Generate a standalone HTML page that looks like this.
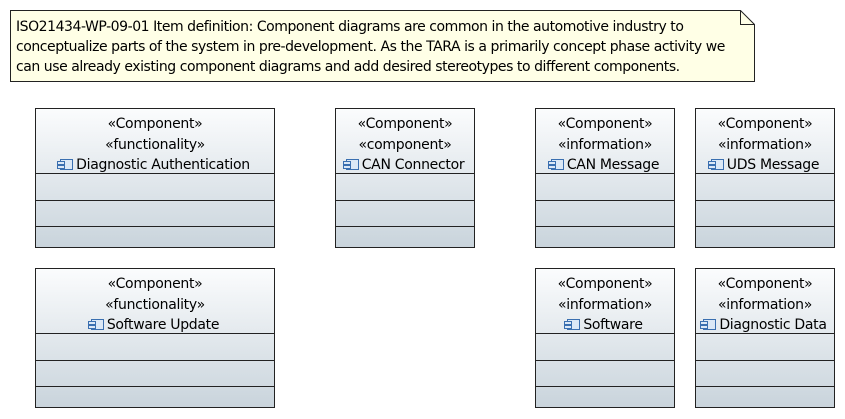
<!DOCTYPE html>
<html><head><meta charset="utf-8"><style>
body{margin:0;width:845px;height:419px;background:#fff;position:relative;overflow:hidden;font-family:"DejaVu Sans","Liberation Sans",sans-serif;}
.note{position:absolute;left:10px;top:10px;width:744px;height:71px;}
.note .txt{position:absolute;left:6px;top:7px;font-size:14px;line-height:20px;color:#000;white-space:nowrap;letter-spacing:-0.45px;}
.comp{position:absolute;width:240px;height:140px;border:1px solid #222;box-sizing:border-box;background:linear-gradient(#fbfcfd,#c9d4dc);}
.comp .hd{position:absolute;left:0;right:0;top:0;height:65px;border-bottom:1px solid #222;text-align:center;font-size:14px;line-height:20.5px;padding-top:5px;box-sizing:border-box;letter-spacing:-0.3px;}
.comp .r1{position:absolute;left:0;right:0;top:91px;border-top:1px solid #222;}
.comp .r2{position:absolute;left:0;right:0;top:117px;border-top:1px solid #222;}
.ic{display:inline-block;width:11px;height:9px;border:1px solid #3a6fb0;background:#dbe8f6;position:relative;margin-right:3px;vertical-align:-1px;}
.ic:before,.ic:after{content:"";position:absolute;left:-4px;width:6px;height:2px;border:1px solid #3a6fb0;background:#dbe8f6;}
.ic:before{top:1px}.ic:after{top:5px}
</style></head><body>
<div class="note">
<svg width="745" height="72" style="position:absolute;left:0;top:0">
<path d="M0.5 0.5 H730.5 L744.5 14.5 V71.5 H0.5 Z" fill="#ffffe6" stroke="#222"/>
<path d="M730.5 0.5 V14.5 H744.5" fill="none" stroke="#222"/>
</svg>
<div class="txt">ISO21434-WP-09-01 Item definition: Component diagrams are common in the automotive industry to<br>conceptualize parts of the system in pre-development. As the TARA is a primarily concept phase activity we<br>can use already existing component diagrams and add desired stereotypes to different components.</div>
</div>

<div class="comp" style="left:35px;top:108px"><div class="hd">«Component»<br>«functionality»<br><span class="ic"></span>Diagnostic Authentication</div><div class="r1"></div><div class="r2"></div></div>
<div class="comp" style="left:335px;top:108px;width:140px"><div class="hd">«Component»<br>«component»<br><span class="ic"></span>CAN Connector</div><div class="r1"></div><div class="r2"></div></div>
<div class="comp" style="left:535px;top:108px;width:140px"><div class="hd">«Component»<br>«information»<br><span class="ic"></span>CAN Message</div><div class="r1"></div><div class="r2"></div></div>
<div class="comp" style="left:695px;top:108px;width:140px"><div class="hd">«Component»<br>«information»<br><span class="ic"></span>UDS Message</div><div class="r1"></div><div class="r2"></div></div>
<div class="comp" style="left:35px;top:268px"><div class="hd">«Component»<br>«functionality»<br><span class="ic"></span>Software Update</div><div class="r1"></div><div class="r2"></div></div>
<div class="comp" style="left:535px;top:268px;width:140px"><div class="hd">«Component»<br>«information»<br><span class="ic"></span>Software</div><div class="r1"></div><div class="r2"></div></div>
<div class="comp" style="left:695px;top:268px;width:140px"><div class="hd">«Component»<br>«information»<br><span class="ic"></span>Diagnostic Data</div><div class="r1"></div><div class="r2"></div></div>
</body></html>
